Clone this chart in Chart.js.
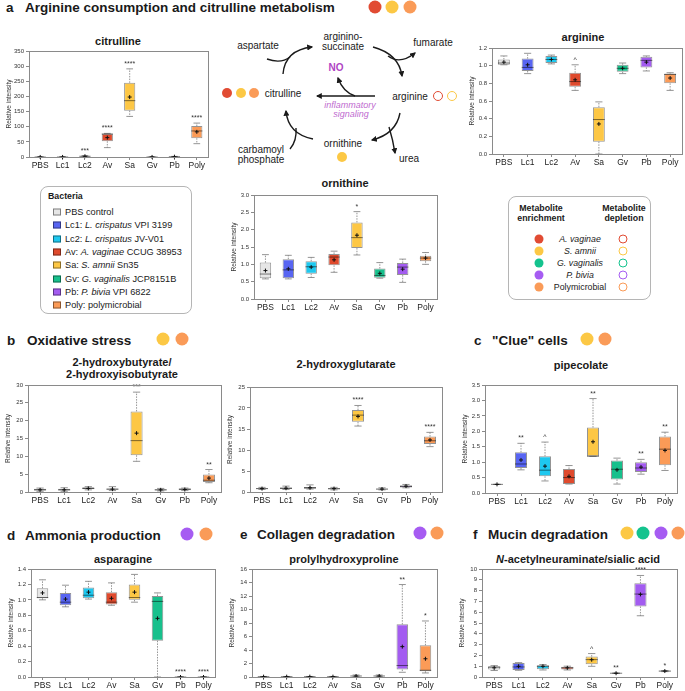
<!DOCTYPE html>
<html><head><meta charset="utf-8">
<script src="https://cdn.jsdelivr.net/npm/chart.js@4.4.1/dist/chart.umd.min.js"></script>
<style>
body{margin:0;width:685px;height:691px;overflow:hidden;background:#fff;font-family:"Liberation Sans",Arial,sans-serif;position:relative;color:#1a1a1a}
.hdr{position:absolute;font-weight:bold;font-size:13.5px;white-space:nowrap;transform:translateY(-50%)}
.ttl{position:absolute;font-weight:bold;font-size:11px;white-space:nowrap;transform:translate(-50%,-50%);text-align:center;line-height:12px}
.dot{position:absolute;border-radius:50%;transform:translate(-50%,-50%);box-sizing:border-box}
.lg{position:absolute;border:1px solid #b5b5b5;border-radius:8px;box-sizing:border-box}
.lt{position:absolute;font-size:9.2px;white-space:nowrap;transform:translateY(-50%)}
.sw{position:absolute;width:8px;height:7px;border:1px solid rgba(0,0,0,0.45);box-sizing:border-box;transform:translateY(-50%)}
.mt{position:absolute;font-size:8.8px;white-space:nowrap;transform:translate(-50%,-50%);text-align:center}
canvas{position:absolute}
svg{position:absolute;left:0;top:0}
</style></head><body>

<!-- section headers -->
<div class="hdr" style="left:6px;top:7px">a</div><div class="hdr" style="left:25px;top:7px">Arginine consumption and citrulline metabolism</div>
<div class="hdr" style="left:7px;top:340px">b</div><div class="hdr" style="left:27px;top:340px">Oxidative stress</div>
<div class="hdr" style="left:474px;top:340px">c</div><div class="hdr" style="left:492px;top:340px">"Clue" cells</div>
<div class="hdr" style="left:7px;top:535px">d</div><div class="hdr" style="left:25px;top:535px">Ammonia production</div>
<div class="hdr" style="left:240px;top:534px">e</div><div class="hdr" style="left:257px;top:534px">Collagen degradation</div>
<div class="hdr" style="left:473px;top:534px">f</div><div class="hdr" style="left:488px;top:534px">Mucin degradation</div>

<!-- chart titles -->
<div class="ttl" style="left:118px;top:41px">citrulline</div>
<div class="ttl" style="left:583px;top:37px">arginine</div>
<div class="ttl" style="left:345px;top:183px">ornithine</div>
<div class="ttl" style="left:122px;top:368px">2-hydroxybutyrate/<br>2-hydroxyisobutyrate</div>
<div class="ttl" style="left:346px;top:364px">2-hydroxyglutarate</div>
<div class="ttl" style="left:581px;top:365px">pipecolate</div>
<div class="ttl" style="left:123px;top:559px">asparagine</div>
<div class="ttl" style="left:344px;top:559px">prolylhydroxyproline</div>
<div class="ttl" style="left:578px;top:559px"><i>N</i>-acetylneuraminate/sialic acid</div>

<!-- bacteria legend -->
<div class="lg" style="left:40px;top:186px;width:152px;height:128px"></div>
<div class="lt" style="left:48px;top:196px;font-weight:bold;font-size:8.8px">Bacteria</div>
<div id="bactLegend"></div>

<!-- metabolite legend -->
<div class="lg" style="left:508px;top:196px;width:143px;height:104px"></div>
<div class="mt" style="left:541px;top:213px;font-weight:bold;line-height:10px">Metabolite<br>enrichment</div>
<div class="mt" style="left:624px;top:213px;font-weight:bold;line-height:10px">Metabolite<br>depletion</div>
<div id="metLegend"></div>

<div id="dots"></div>

<svg width="685" height="691" viewBox="0 0 685 691">
<defs><marker id="ah" viewBox="0 0 10 10" refX="8" refY="5" markerWidth="6" markerHeight="6" markerUnits="userSpaceOnUse" orient="auto"><path d="M0,0 L10,5 L0,10 z" fill="#1a1a1a"/></marker></defs>
<g fill="none" stroke="#1a1a1a" stroke-width="1.4">
<path d="M283,74 Q285,50 312,47" marker-end="url(#ah)"/>
<path d="M267,59 Q281,64 290,57"/>
<path d="M373,47 Q399,54 402,76" marker-end="url(#ah)"/>
<path d="M388,56 Q400,65 415,53" marker-end="url(#ah)"/>
<path d="M400,113 Q396,134 372,140" marker-end="url(#ah)"/>
<path d="M389,127 Q393,140 395,153" marker-end="url(#ah)"/>
<path d="M313,139 Q288,134 286,111" marker-end="url(#ah)"/>
<path d="M290,149 Q297,141 296,128"/>
<path d="M375,96 L317,96" marker-end="url(#ah)"/>
<path d="M355,96 Q343,92 338,78" marker-end="url(#ah)"/>
</g>
<g font-family="Liberation Sans, Arial, sans-serif" font-size="10" fill="#1a1a1a" text-anchor="middle" dominant-baseline="central">
<text x="343" y="36">arginino-</text><text x="343" y="46">succinate</text>
<text x="258" y="45">aspartate</text>
<text x="433" y="42">fumarate</text>
<text x="283" y="93">citrulline</text>
<text x="410" y="96">arginine</text>
<text x="343" y="143">ornithine</text>
<text x="261" y="149">carbamoyl</text><text x="261" y="159">phosphate</text>
<text x="409" y="158">urea</text>
<text x="336" y="67" font-weight="bold" fill="#b045c4">NO</text>
<text x="350" y="105" font-style="italic" font-size="9" fill="#c06bd0">inflammatory</text>
<text x="351" y="114" font-style="italic" font-size="9" fill="#c06bd0">signaling</text>
</g>
</svg>

<script>
const groups = ['PBS', 'Lc1', 'Lc2', 'Av', 'Sa', 'Gv', 'Pb', 'Poly'];
const groupNames = ['PBS control', 'Lc1: <i>L. crispatus</i> VPI 3199', 'Lc2: <i>L. crispatus</i> JV-V01',
  'Av: <i>A. vaginae</i> CCUG 38953', 'Sa: <i>S. amnii</i> Sn35', 'Gv: <i>G. vaginalis</i> JCP8151B',
  'Pb: <i>P. bivia</i> VPI 6822', 'Poly: polymicrobial'];
const groupColors = ['#e6e6e6', '#5865f2', '#1ec8ef', '#df4a2d', '#fdc745', '#17c08c', '#a35cf0', '#fb9b57'];

// each row: [min, q1, median, q3, max, mean]
const citrulline = [[0,0,0,0,0.5,0.2],[0,0,0,0,0.5,0.2],[0.5,1.5,2.5,3.5,4.5,2.5],[31,52,76,77,78,64],
  [134,153,186,245,291,198],[0,0,0,0,0.5,0.2],[0,0.5,1,1.5,2,1],[44,62,86,102,112,83]];
const citrullineSig = ['', '', '***', '****', '****', '', '', '****'];

const arginine = [[1.01,1.01,1.03,1.07,1.11,1.04],[0.91,0.94,0.98,1.08,1.14,1.01],[1.02,1.03,1.07,1.11,1.12,1.07],
  [0.72,0.76,0.82,0.92,1.01,0.84],[0,0.14,0.39,0.53,0.59,0.34],[0.91,0.93,0.97,1.01,1.03,0.97],
  [0.94,0.98,1.06,1.10,1.11,1.04],[0.72,0.80,0.90,0.91,0.92,0.86]];
const arginineSig = ['', '', '', '^', '', '', '', ''];

const ornithine = [[0.58,0.60,0.72,1.05,1.28,0.82],[0.58,0.60,0.84,1.15,1.26,0.87],[0.62,0.73,0.93,1.09,1.20,0.92],
  [0.77,0.97,1.21,1.30,1.38,1.13],[1.27,1.47,1.77,2.21,2.52,1.84],[0.60,0.61,0.68,0.88,1.05,0.74],
  [0.48,0.69,0.92,1.04,1.15,0.86],[1.00,1.09,1.18,1.25,1.34,1.18]];
const ornithineSig = ['', '', '', '', '*', '', '', ''];

const hydroxybutyrate = [[0.2,0.4,0.6,0.9,1.1,0.6],[0.2,0.4,0.6,0.9,1.2,0.6],[0.6,0.8,1.0,1.3,1.5,1.0],
  [0.4,0.6,0.8,1.0,1.5,0.8],[8.6,10.3,14.4,22.6,28.0,16.5],[0.3,0.4,0.6,0.8,1.0,0.6],
  [0.4,0.5,0.8,1.0,1.1,0.7],[2.6,2.8,3.3,4.9,6.3,3.9]];
const hydroxybutyrateSig = ['', '', '', '', '***', '', '', '**'];

const hydroxyglutarate = [[0.6,0.7,0.8,0.9,1.1,0.8],[0.6,0.7,0.9,1.1,1.4,0.9],[0.7,0.8,1.0,1.2,1.7,1.0],
  [0.5,0.6,0.8,0.9,1.1,0.8],[15.7,16.7,18.3,19.5,20.6,18.0],[0.5,0.6,0.7,0.8,1.0,0.7],
  [1.0,1.1,1.3,1.6,1.8,1.4],[10.8,11.4,12.2,13.2,14.2,12.4]];
const hydroxyglutarateSig = ['', '', '', '', '****', '', '', '****'];

const pipecolate = [[0.28,0.28,0.28,0.28,0.28,0.28],[0.75,0.81,0.94,1.32,1.61,1.07],[0.39,0.54,0.74,1.19,1.65,0.87],
  [0.29,0.29,0.50,0.78,0.89,0.54],[1.19,1.19,1.19,2.12,3.06,1.66],[0.29,0.44,0.77,1.05,1.13,0.75],
  [0.61,0.68,0.81,1.00,1.09,0.84],[0.73,0.90,1.42,1.83,1.97,1.38]];
const pipecolateSig = ['', '**', '^', '', '**', '', '**', '**'];

const asparagine = [[1.00,1.02,1.03,1.15,1.26,1.09],[0.91,0.93,0.97,1.09,1.19,1.01],[1.01,1.02,1.06,1.16,1.24,1.10],
  [0.93,0.94,0.97,1.10,1.22,1.02],[0.97,1.00,1.03,1.20,1.33,1.10],[0,0.47,0.98,1.05,1.09,0.76],
  [0,0,0,0,0,0],[0,0,0,0,0,0]];
const asparagineSig = ['', '', '', '', '', '', '****', '****'];

const prolylhydroxyproline = [[0.03,0.04,0.05,0.06,0.08,0.05],[0.03,0.04,0.05,0.06,0.08,0.05],[0.03,0.04,0.05,0.06,0.08,0.05],
  [0.03,0.04,0.05,0.06,0.08,0.05],[0.05,0.1,0.15,0.2,0.3,0.15],[0.05,0.1,0.15,0.2,0.3,0.15],
  [0.7,1.1,1.7,7.8,13.7,4.5],[0.6,0.85,1.0,4.7,8.3,2.7]];
const prolylhydroxyprolineSig = ['', '', '', '', '', '', '**', '*'];

const sialic = [[0.6,0.7,0.9,1.0,1.05,0.85],[0.62,0.65,0.93,1.30,1.33,0.99],[0.65,0.71,0.99,1.08,1.15,0.99],
  [0.65,0.70,0.85,0.95,1.0,0.85],[0.99,1.18,1.61,1.89,2.17,1.60],[0.33,0.34,0.35,0.36,0.37,0.35],
  [5.67,6.53,7.68,8.67,9.4,7.65],[0.5,0.52,0.55,0.58,0.6,0.55]];
const sialicSig = ['', '', '', '', '^', '**', '****', '*'];

const FONT = 'Liberation Sans, Arial, sans-serif';

function boxChart(vals, sig, yMax, yStep, dec, p) {
  const AW = 24, PT = 6, PR = 3, XH = 16;
  const cv = document.createElement('canvas');
  const w = p.r - p.l + AW + PR, h = p.b - p.t + PT + XH;
  cv.width = w; cv.height = h;
  cv.style.left = (p.l - AW) + 'px'; cv.style.top = (p.t - PT) + 'px';
  document.body.appendChild(cv);

  const extras = {
    id: 'boxExtras',
    afterDatasetsDraw(chart) {
      const ctx = chart.ctx, a = chart.chartArea, x = chart.scales.x, y = chart.scales.y;
      const meta = chart.getDatasetMeta(0);
      const line = (x1, y1, x2, y2) => { ctx.beginPath(); ctx.moveTo(x1, y1); ctx.lineTo(x2, y2); ctx.stroke(); };
      vals.forEach((v, i) => {
        const cx = x.getPixelForValue(i);
        const bw = meta.data[i].width;
        const [mn, q1, md, q3, mx, mean] = v.map(n => y.getPixelForValue(n));
        ctx.save();
        ctx.strokeStyle = '#7a7a7a'; ctx.lineWidth = 0.8; ctx.setLineDash([1.5, 1.2]);
        line(cx, q3, cx, mx); line(cx, q1, cx, mn);
        ctx.setLineDash([]);
        line(cx - bw * 0.3, mx, cx + bw * 0.3, mx); line(cx - bw * 0.3, mn, cx + bw * 0.3, mn);
        ctx.strokeStyle = 'rgba(0,0,0,0.5)'; ctx.lineWidth = 1;
        line(cx - bw / 2, md, cx + bw / 2, md);
        ctx.strokeStyle = '#111';
        line(cx - 2, mean, cx + 2, mean); line(cx, mean - 2, cx, mean + 2);
        if (sig[i]) {
          ctx.fillStyle = '#333'; ctx.font = '7px ' + FONT; ctx.textAlign = 'center';
          ctx.fillText(sig[i], cx, mx - 3);
        }
        ctx.restore();
      });
      ctx.save();
      ctx.strokeStyle = '#8a8a8a'; ctx.lineWidth = 1;
      ctx.strokeRect(Math.round(a.left) + 0.5, Math.round(a.top) + 0.5, Math.round(a.right - a.left), Math.round(a.bottom - a.top));
      ctx.restore();
    }
  };

  new Chart(cv, {
    type: 'bar',
    data: {
      labels: groups,
      datasets: [{
        data: vals.map(v => [v[1], v[3]]),
        backgroundColor: groupColors,
        borderColor: 'rgba(0,0,0,0.42)',
        borderWidth: 1,
        borderSkipped: false,
        barPercentage: 0.5,
        categoryPercentage: 1
      }]
    },
    options: {
      responsive: false, animation: false, devicePixelRatio: 1,
      layout: { padding: { top: PT, right: PR, left: 0, bottom: 0 } },
      plugins: { legend: { display: false }, tooltip: { enabled: false } },
      scales: {
        x: {
          grid: { drawOnChartArea: false, tickLength: 3, color: '#8a8a8a', offset: false },
          border: { color: '#8a8a8a' },
          ticks: { font: { size: 8.5, family: FONT }, color: '#222', padding: 1, maxRotation: 0, autoSkip: false },
          afterFit: s => { s.height = XH; }
        },
        y: {
          min: 0, max: yMax,
          grid: { drawOnChartArea: false, tickLength: 3, color: '#8a8a8a' },
          border: { color: '#8a8a8a' },
          ticks: { stepSize: yStep, font: { size: 6, family: FONT }, color: '#333', padding: 2, callback: v => Number(v).toFixed(dec) },
          title: { display: true, text: 'Relative intensity', font: { size: 6.5, family: FONT }, color: '#333', padding: 0 },
          afterFit: s => { s.width = AW; }
        }
      }
    },
    plugins: [extras]
  });
}

boxChart(citrulline, citrullineSig, 350, 50, 0, { l: 29, t: 51, r: 208, b: 157 });
boxChart(arginine, arginineSig, 1.2, 0.2, 1, { l: 492, t: 48, r: 682, b: 154 });
boxChart(ornithine, ornithineSig, 3, 0.5, 1, { l: 254, t: 195, r: 437, b: 299 });
boxChart(hydroxybutyrate, hydroxybutyrateSig, 30, 5, 0, { l: 28, t: 385, r: 221, b: 492 });
boxChart(hydroxyglutarate, hydroxyglutarateSig, 25, 5, 0, { l: 250, t: 387, r: 442, b: 492 });
boxChart(pipecolate, pipecolateSig, 3.5, 0.5, 1, { l: 485, t: 385, r: 677, b: 493 });
boxChart(asparagine, asparagineSig, 1.4, 0.2, 1, { l: 31, t: 569, r: 215, b: 677 });
boxChart(prolylhydroxyproline, prolylhydroxyprolineSig, 16, 2, 0, { l: 252, t: 569, r: 437, b: 677 });
boxChart(sialic, sialicSig, 10, 1, 0, { l: 482, t: 569, r: 677, b: 677 });

// bacteria legend
const bl = document.getElementById('bactLegend');
groupNames.forEach((n, i) => {
  const yy = 212 + i * 13.3;
  bl.insertAdjacentHTML('beforeend',
    `<div class="sw" style="left:53px;top:${yy}px;background:${groupColors[i]}"></div>` +
    `<div class="lt" style="left:65px;top:${yy}px">${n}</div>`);
});

// metabolite legend
const metNames = ['<i>A. vaginae</i>', '<i>S. amnii</i>', '<i>G. vaginalis</i>', '<i>P. bivia</i>', 'Polymicrobial'];
const metColors = ['#e14b33', '#fcc845', '#14c38e', '#a65cf2', '#fa9b58'];
const ml = document.getElementById('metLegend');
metNames.forEach((n, i) => {
  const yy = 239 + i * 12;
  ml.insertAdjacentHTML('beforeend',
    `<div class="dot" style="left:539px;top:${yy}px;width:9px;height:9px;background:${metColors[i]}"></div>` +
    `<div class="mt" style="left:580px;top:${yy}px">${n}</div>` +
    `<div class="dot" style="left:623px;top:${yy}px;width:9px;height:9px;border:1.3px solid ${metColors[i]}"></div>`);
});

// coloured indicator dots
const R = '#e14b33', Y = '#fcc845', O = '#fa9b58', G = '#14c38e', P = '#a65cf2';
const dots = [
  [375, 7, 13, R], [392, 7, 13, Y], [410, 7, 13, O],
  [227, 93, 10, R], [241, 93, 10, Y], [254, 93, 10, O],
  [342, 157, 10, Y],
  [163, 339, 13, Y], [182, 339, 13, O],
  [587, 339, 13, Y], [605, 339, 13, O],
  [187, 534, 13, P], [206, 534, 13, O],
  [420, 533, 13, P], [437, 533, 13, O],
  [627, 533, 13, Y], [643, 533, 13, G], [661, 533, 13, P], [678, 533, 13, O]
];
const dd = document.getElementById('dots');
dots.forEach(d => dd.insertAdjacentHTML('beforeend',
  `<div class="dot" style="left:${d[0]}px;top:${d[1]}px;width:${d[2]}px;height:${d[2]}px;background:${d[3]}"></div>`));
[[438, R], [452, Y]].forEach(d => dd.insertAdjacentHTML('beforeend',
  `<div class="dot" style="left:${d[0]}px;top:96px;width:10px;height:10px;border:1.3px solid ${d[1]}"></div>`));
</script>
</body></html>
